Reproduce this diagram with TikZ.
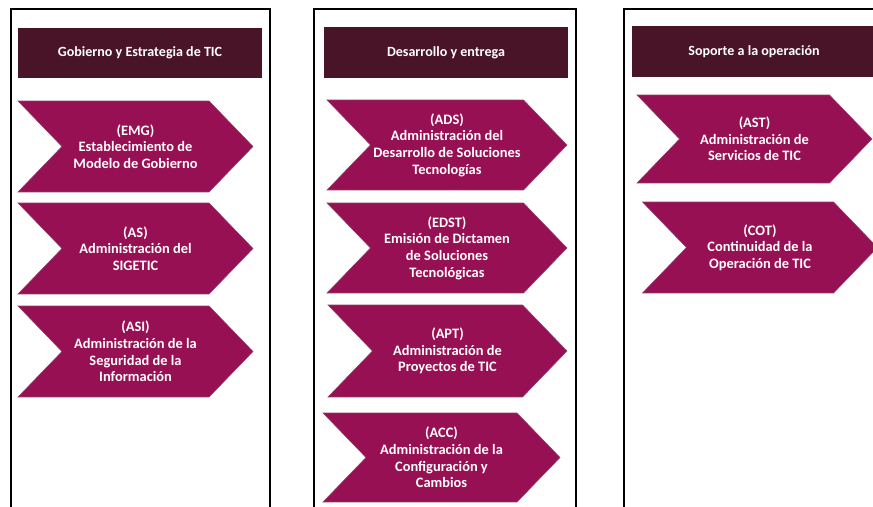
\documentclass[tikz,border=0pt]{standalone}
\usepackage{fontspec}
\setmainfont{Carlito}
\usepackage{xcolor}
\usetikzlibrary{shapes.symbols}

\definecolor{vino}{RGB}{152,16,84}
\definecolor{vinodark}{RGB}{74,20,40}

\begin{document}
\begin{tikzpicture}[x=0.02cm, y=-0.02cm,
  frame/.style = {draw=black, line width=1.7pt},
  head/.style = {fill=vinodark, text=white, font=\bfseries\fontsize{8}{9.4}\selectfont, minimum width=4.88cm, minimum height=1.02cm, inner sep=0pt},
  chev/.style = {shape=signal, signal to=east, signal from=west, signal pointer angle=92, fill=vino, draw=vino!60!gray, line width=0.3pt, text=white, align=center, font=\bfseries\fontsize{8.2}{9.5}\selectfont, minimum width=4.7cm, minimum height=1.82cm, inner sep=0pt}]
\useasboundingbox (0,0) rectangle (873,507);
\clip (0,0) rectangle (873,507);

% marcos
\draw[frame] (11,9) rectangle (270,530);
\draw[frame] (314,9) rectangle (576,530);
\draw[frame] (624,9) rectangle (900,530);

% encabezados
\node[head] (h1) at (140,53) {Gobierno y Estrategia de TIC};
\node[head] (h2) at (446,52.5) {Desarrollo y entrega};
\node[head] (h3) at (754,51.5) {Soporte a la operación};

% procesos
\node[chev] (1) at (135.5,146.5) {(EMG)\\Establecimiento de\\Modelo de Gobierno};
\node[chev] (2) at (135.5,248.5) {(AS)\\Administración del\\SIGETIC};
\node[chev] (3) at (135.5,351.5) {(ASI)\\Administración de la\\Seguridad de la\\Información};

\node[chev, minimum width=4.8cm, minimum height=1.8cm] (4) at (447,145) {(ADS)\\Administración del\\Desarrollo de Soluciones\\Tecnologías};
\node[chev, minimum width=4.8cm, minimum height=1.8cm] (5) at (447,248) {(EDST)\\Emisión de Dictamen\\de Soluciones\\Tecnológicas};
\node[chev, minimum width=4.78cm, minimum height=1.84cm] (6) at (447.5,351) {(APT)\\Administración de\\Proyectos de TIC};
\node[chev, minimum width=4.74cm, minimum height=1.78cm] (7) at (441.5,457.5) {(ACC)\\Administración de la\\Configuración y\\Cambios};

\node[chev, minimum height=1.76cm] (8) at (754.5,139) {(AST)\\Administración de\\Servicios de TIC};
\node[chev] (9) at (760,247.5) {(COT)\\Continuidad de la\\Operación de TIC};
\end{tikzpicture}
\end{document}
